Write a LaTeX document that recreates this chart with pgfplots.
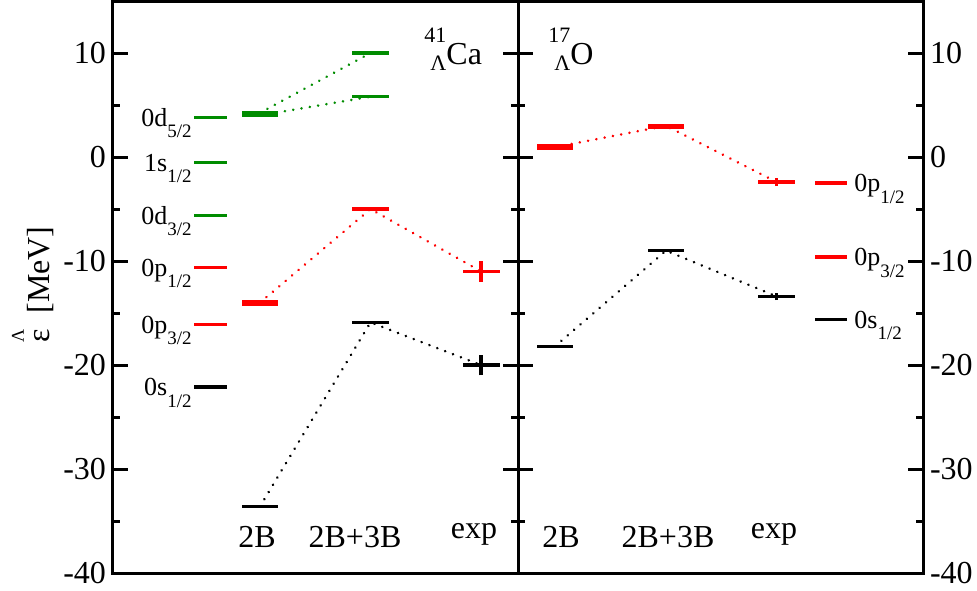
\documentclass[border=0pt]{standalone}
\usepackage{fontspec}
\setmainfont{Liberation Serif}
\usepackage{pgfplots}
\pgfplotsset{compat=1.18}
\definecolor{lvgreen}{RGB}{0,140,0}
\definecolor{lvred}{RGB}{255,0,0}
\newcommand{\sub}[1]{\raisebox{-5.8pt}{\fontsize{9.5}{10}\selectfont #1}}
\newcommand{\nuc}[3]{\makebox[0pt][l]{\raisebox{11pt}{\fontsize{11}{11}\selectfont #1}}\raisebox{-3pt}{\fontsize{11}{11}\selectfont\phantom{#1}\llap{#2}}#3}
\pgfplotsset{
  panel/.style={
    scale only axis, width=202.5pt, height=286pt,
    ymin=-40, ymax=15, xmin=0, xmax=405,
    xtick=\empty,
    ytick={-40,-30,...,10}, minor ytick={-35,-25,...,5},
    tick align=inside,
    major tick length=7.5pt, minor tick length=3.5pt,
    every tick/.style={black, line width=1.5pt},
    axis line style={line width=1.5pt},
    tick label style={font=\fontsize{16}{19}\selectfont},
    /pgf/number format/assume math mode=true,
    clip=false,
  },
  lvl/.style={line width=1.7pt},
  dot/.style={line width=1.4pt, dash pattern=on 0.01pt off 4.2pt, line cap=round},
}
\begin{document}
\begin{tikzpicture}
% ---------------- left panel: 41 Lambda Ca ----------------
\begin{axis}[panel, at={(0,0)}, anchor=south west, yticklabel pos=left]
% connecting dotted lines
\addplot[dot, lvgreen] coordinates {(147,4.25) (257.5,10.0)};
\addplot[dot, lvgreen] coordinates {(147,4.0) (257.5,5.8)};
\addplot[dot, lvred] coordinates {(147,-14.0) (257.5,-5.0) (368,-11.0)};
\addplot[dot, black] coordinates {(147,-33.6) (257.5,-15.9) (368,-20.0)};
% level key column
\addplot[lvl, lvgreen] coordinates {(81,3.8) (114,3.8)};
\addplot[lvl, lvgreen] coordinates {(81,-0.5) (114,-0.5)};
\addplot[lvl, lvgreen] coordinates {(81,-5.6) (114,-5.6)};
\addplot[lvl, lvred] coordinates {(81,-10.6) (114,-10.6)};
\addplot[lvl, lvred] coordinates {(81,-16.1) (114,-16.1)};
\addplot[lvl, black] coordinates {(81,-22.1) (114,-22.1)};
% 2B
\addplot[lvl, lvgreen] coordinates {(129,4.0) (165,4.0)};
\addplot[lvl, lvgreen] coordinates {(129,4.25) (165,4.25)};
\addplot[lvl, lvred] coordinates {(129,-13.9) (165,-13.9)};
\addplot[lvl, lvred] coordinates {(129,-14.15) (165,-14.15)};
\addplot[lvl, black] coordinates {(129,-33.6) (165,-33.6)};
% 2B+3B
\addplot[lvl, lvgreen] coordinates {(239,10.0) (276,10.0)};
\addplot[lvl, lvgreen] coordinates {(239,5.8) (276,5.8)};
\addplot[lvl, lvred] coordinates {(239,-4.95) (276,-4.95)};
\addplot[lvl, lvred] coordinates {(239,-5.05) (276,-5.05)};
\addplot[lvl, black] coordinates {(239,-15.9) (276,-15.9)};
% exp
\addplot[lvl, lvred] coordinates {(350,-11.0) (387,-11.0)};
\addplot[lvl, lvred] coordinates {(368,-12.0) (368,-10.0)};
\addplot[lvl, black] coordinates {(350,-20.0) (387,-20.0)};
\addplot[lvl, black] coordinates {(368,-21.0) (368,-19.0)};
% labels
\begin{scope}[every node/.style={font=\fontsize{13}{15}\selectfont, anchor=base east, inner sep=0pt}]
\node at (axis cs:79,2.95) {0d\sub{5/2}};
\node at (axis cs:79,-1.35) {1s\sub{1/2}};
\node at (axis cs:79,-6.45) {0d\sub{3/2}};
\node at (axis cs:79,-11.45) {0p\sub{1/2}};
\node at (axis cs:79,-16.95) {0p\sub{3/2}};
\node at (axis cs:79,-22.95) {0s\sub{1/2}};
\end{scope}
\begin{scope}[every node/.style={font=\fontsize{16}{19}\selectfont, anchor=base, inner sep=0pt}]
\node at (axis cs:144,-37.5) {2B};
\node at (axis cs:242,-37.5) {2B+3B};
\node at (axis cs:361,-36.7) {exp};
\node[anchor=base west] at (axis cs:311,8.85) {\nuc{41}{Λ}{Ca}};
\end{scope}
\node[rotate=90, anchor=base, inner sep=0pt, font=\fontsize{16}{19}\selectfont] at ([xshift=-31.5pt]rel axis cs:0,0.504) {ε\llap{\raisebox{13pt}{\fontsize{9}{9}\selectfont Λ}}\hspace{8pt}[MeV]};
\end{axis}
% ---------------- right panel: 17 Lambda O ----------------
\begin{axis}[panel, at={(202.5pt,0)}, anchor=south west, yticklabel pos=right]
\addplot[dot, lvred] coordinates {(37,0.95) (148,3.0) (258.5,-2.4)};
\addplot[dot, black] coordinates {(37,-18.2) (148,-9.0) (258.5,-13.4)};
% 2B
\addplot[lvl, lvred] coordinates {(19,0.8) (55,0.8)};
\addplot[lvl, lvred] coordinates {(19,1.1) (55,1.1)};
\addplot[lvl, black] coordinates {(19,-18.2) (55,-18.2)};
% 2B+3B
\addplot[lvl, lvred] coordinates {(130,2.9) (166,2.9)};
\addplot[lvl, lvred] coordinates {(130,3.05) (166,3.05)};
\addplot[lvl, black] coordinates {(130,-9.0) (166,-9.0)};
% exp
\addplot[lvl, lvred] coordinates {(240,-2.4) (277,-2.4)};
\addplot[lvl, lvred] coordinates {(258.5,-2.8) (258.5,-2.0)};
\addplot[lvl, black] coordinates {(240,-13.4) (277,-13.4)};
\addplot[lvl, black] coordinates {(258.5,-13.75) (258.5,-13.05)};
% key column
\addplot[lvl, lvred] coordinates {(297,-2.5) (329,-2.5)};
\addplot[lvl, lvred] coordinates {(297,-9.6) (329,-9.6)};
\addplot[lvl, black] coordinates {(297,-15.6) (329,-15.6)};
\begin{scope}[every node/.style={font=\fontsize{13}{15}\selectfont, anchor=base west, inner sep=0pt}]
\node at (axis cs:336,-3.35) {0p\sub{1/2}};
\node at (axis cs:336,-10.45) {0p\sub{3/2}};
\node at (axis cs:336,-16.45) {0s\sub{1/2}};
\end{scope}
\begin{scope}[every node/.style={font=\fontsize{16}{19}\selectfont, anchor=base, inner sep=0pt}]
\node at (axis cs:43,-37.5) {2B};
\node at (axis cs:150,-37.5) {2B+3B};
\node at (axis cs:256,-36.7) {exp};
\node[anchor=base west] at (axis cs:30,8.85) {\nuc{17}{Λ}{O}};
\end{scope}
\end{axis}
\pgfresetboundingbox
\path[use as bounding box] (-56.5pt,-8.5pt) rectangle (432pt,286.5pt);
\end{tikzpicture}
\end{document}
